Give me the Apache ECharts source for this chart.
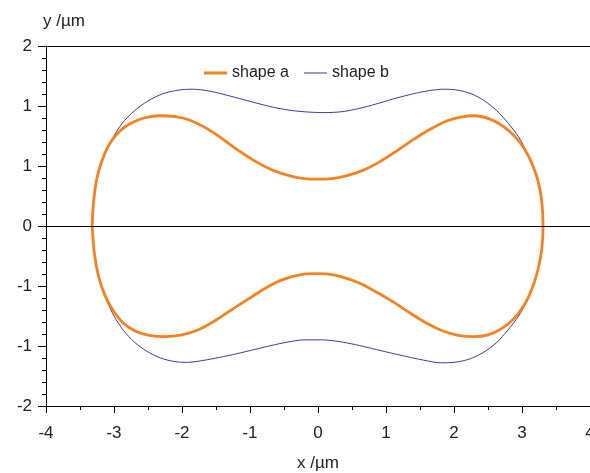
<!DOCTYPE html>
<html>
<head>
<meta charset="utf-8">
<script src="https://cdn.jsdelivr.net/npm/echarts@6/dist/echarts.min.js"></script>
<style>
html,body{margin:0;padding:0;background:#fff;}
#chart{width:590px;height:473px;}
</style>
</head>
<body>
<div id="chart"></div>
<script>
// Contour points, [x, y] in µm (closed outline)
var shapeA = [
  [-3.32,0.00],[-3.31,0.18],[-3.28,0.40],[-3.23,0.60],[-3.15,0.78],[-3.05,0.93],[-2.92,1.05],[-2.76,1.14],
  [-2.56,1.20],[-2.32,1.225],[-2.10,1.215],[-1.90,1.18],[-1.65,1.09],[-1.40,0.965],[-1.15,0.83],[-0.90,0.71],
  [-0.65,0.615],[-0.40,0.555],[-0.20,0.527],[0.00,0.52],[0.20,0.527],[0.40,0.555],[0.65,0.615],[0.90,0.71],
  [1.15,0.83],[1.40,0.96],[1.65,1.075],[1.90,1.17],[2.10,1.21],[2.30,1.225],[2.52,1.19],[2.72,1.11],
  [2.90,0.99],[3.05,0.84],[3.16,0.67],[3.24,0.49],[3.29,0.28],[3.31,0.00],
  [3.29,-0.26],[3.23,-0.50],[3.14,-0.71],[3.03,-0.88],[2.88,-1.03],[2.70,-1.14],[2.50,-1.21],[2.28,-1.23],
  [2.06,-1.215],[1.85,-1.17],[1.60,-1.08],[1.35,-0.965],[1.10,-0.84],[0.85,-0.73],[0.60,-0.63],[0.35,-0.565],
  [0.15,-0.535],[-0.05,-0.53],[-0.25,-0.54],[-0.50,-0.59],[-0.75,-0.68],[-1.00,-0.80],[-1.25,-0.92],[-1.50,-1.045],
  [-1.75,-1.15],[-2.00,-1.21],[-2.25,-1.23],[-2.48,-1.215],[-2.68,-1.17],[-2.86,-1.08],[-3.02,-0.93],[-3.14,-0.76],
  [-3.23,-0.55],[-3.29,-0.30],[-3.32,0.00]
];
var shapeB = [
  [-3.32,0.00],[-3.31,0.18],[-3.28,0.40],[-3.22,0.60],[-3.14,0.78],[-3.03,0.96],[-2.88,1.14],[-2.70,1.28],
  [-2.50,1.39],[-2.28,1.47],[-2.05,1.51],[-1.85,1.52],[-1.60,1.50],[-1.35,1.455],[-1.10,1.405],[-0.85,1.355],
  [-0.60,1.31],[-0.35,1.28],[-0.12,1.265],[0.10,1.26],[0.35,1.27],[0.60,1.305],[0.85,1.355],[1.10,1.41],
  [1.35,1.46],[1.60,1.50],[1.85,1.52],[2.05,1.51],[2.25,1.47],[2.45,1.39],[2.63,1.28],[2.80,1.14],
  [2.95,0.99],[3.07,0.82],[3.17,0.64],[3.24,0.46],[3.29,0.25],[3.31,0.00],
  [3.29,-0.26],[3.24,-0.47],[3.17,-0.66],[3.07,-0.84],[2.95,-1.00],[2.80,-1.15],[2.62,-1.30],[2.42,-1.41],
  [2.22,-1.48],[2.00,-1.515],[1.80,-1.52],[1.55,-1.49],[1.30,-1.45],[1.05,-1.407],[0.80,-1.362],[0.55,-1.318],
  [0.30,-1.283],[0.05,-1.265],[-0.20,-1.265],[-0.45,-1.29],[-0.70,-1.33],[-0.95,-1.375],[-1.20,-1.42],[-1.45,-1.46],
  [-1.70,-1.495],[-1.92,-1.515],[-2.12,-1.505],[-2.32,-1.465],[-2.52,-1.39],[-2.70,-1.29],[-2.86,-1.16],[-3.00,-1.00],
  [-3.11,-0.82],[-3.20,-0.62],[-3.26,-0.42],[-3.30,-0.22],[-3.32,0.00]
];
var seriesNames = ['shape a', 'shape b'];
var xTickLabels = ['-4','-3','-2','-1','0','1','2','3','4'];
var yTickLabels = ['-2','-1','-1','0','1','1','2'];
var xName = 'x /\u00b5m';
var yName = 'y /\u00b5m';

var FONT = 'Liberation Sans, Arial, sans-serif';
var COLOR_A = '#f58220';
var COLOR_B = '#3c3c9c';
var chart = echarts.init(document.getElementById('chart'), null, {renderer: 'canvas'});
var legendText = {fontFamily: FONT, fontSize: 16, color: '#222'};
chart.setOption({
  animation: false,
  backgroundColor: '#ffffff',
  grid: {left: 46, right: 0, top: 46, bottom: 67, containLabel: false, outerBoundsMode: 'none'},
  legend: [{
    left: 199, top: 60, icon: 'rect',
    itemWidth: 23, itemHeight: 3,
    textStyle: legendText,
    data: [seriesNames[0]]
  }, {
    left: 299, top: 60, icon: 'rect',
    itemWidth: 23, itemHeight: 1,
    textStyle: legendText,
    data: [seriesNames[1]]
  }],
  xAxis: [{
    type: 'value', min: -4, max: 4, interval: 1, position: 'bottom',
    name: xName, nameLocation: 'middle', nameGap: 49,
    nameTextStyle: {fontFamily: FONT, fontSize: 17, color: '#222'},
    axisLine: {show: true, onZero: false, lineStyle: {color: '#000', width: 1}},
    axisTick: {show: true, inside: false, length: 7, lineStyle: {color: '#000'}},
    minorTick: {show: true, splitNumber: 2, length: 4, lineStyle: {color: '#000'}},
    axisLabel: {margin: 19, fontFamily: FONT, fontSize: 17, color: '#222',
      formatter: function (v, i) { return xTickLabels[i]; }},
    splitLine: {show: false}
  }, {
    type: 'value', min: -4, max: 4, position: 'top',
    axisLine: {show: true, onZero: false, lineStyle: {color: '#000', width: 1}},
    axisTick: {show: false}, axisLabel: {show: false}, splitLine: {show: false}
  }],
  yAxis: [{
    type: 'value', min: -2, max: 2, interval: 2 / 3, position: 'left',
    name: yName, nameLocation: 'end', nameGap: 16,
    nameTextStyle: {fontFamily: FONT, fontSize: 17, color: '#222', align: 'left', padding: [0, 0, 0, -3]},
    axisLine: {show: true, onZero: false, lineStyle: {color: '#000', width: 1}},
    axisTick: {show: true, inside: false, length: 8, lineStyle: {color: '#000'}},
    minorTick: {show: true, splitNumber: 5, length: 4, lineStyle: {color: '#000'}},
    axisLabel: {margin: 14, fontFamily: FONT, fontSize: 17, color: '#222',
      formatter: function (v, i) { return yTickLabels[i]; }},
    splitLine: {show: false}
  }, {
    type: 'value', min: -2, max: 2, position: 'right',
    axisLine: {show: true, onZero: false, lineStyle: {color: '#aaaaaa', width: 1}},
    axisTick: {show: false}, axisLabel: {show: false}, splitLine: {show: false}
  }],
  series: [{
    name: seriesNames[0], type: 'line', data: shapeA, z: 4,
    showSymbol: false, symbol: 'none', smooth: 0.3,
    lineStyle: {color: COLOR_A, width: 2.8},
    itemStyle: {color: COLOR_A}
  }, {
    name: seriesNames[1], type: 'line', data: shapeB, z: 3,
    showSymbol: false, symbol: 'none', smooth: 0.3,
    lineStyle: {color: COLOR_B, width: 1},
    itemStyle: {color: COLOR_B},
    markLine: {
      silent: true, symbol: 'none', label: {show: false},
      lineStyle: {color: '#000', width: 1, type: 'solid'},
      data: [{yAxis: 0}]
    }
  }]
});
</script>
</body>
</html>
